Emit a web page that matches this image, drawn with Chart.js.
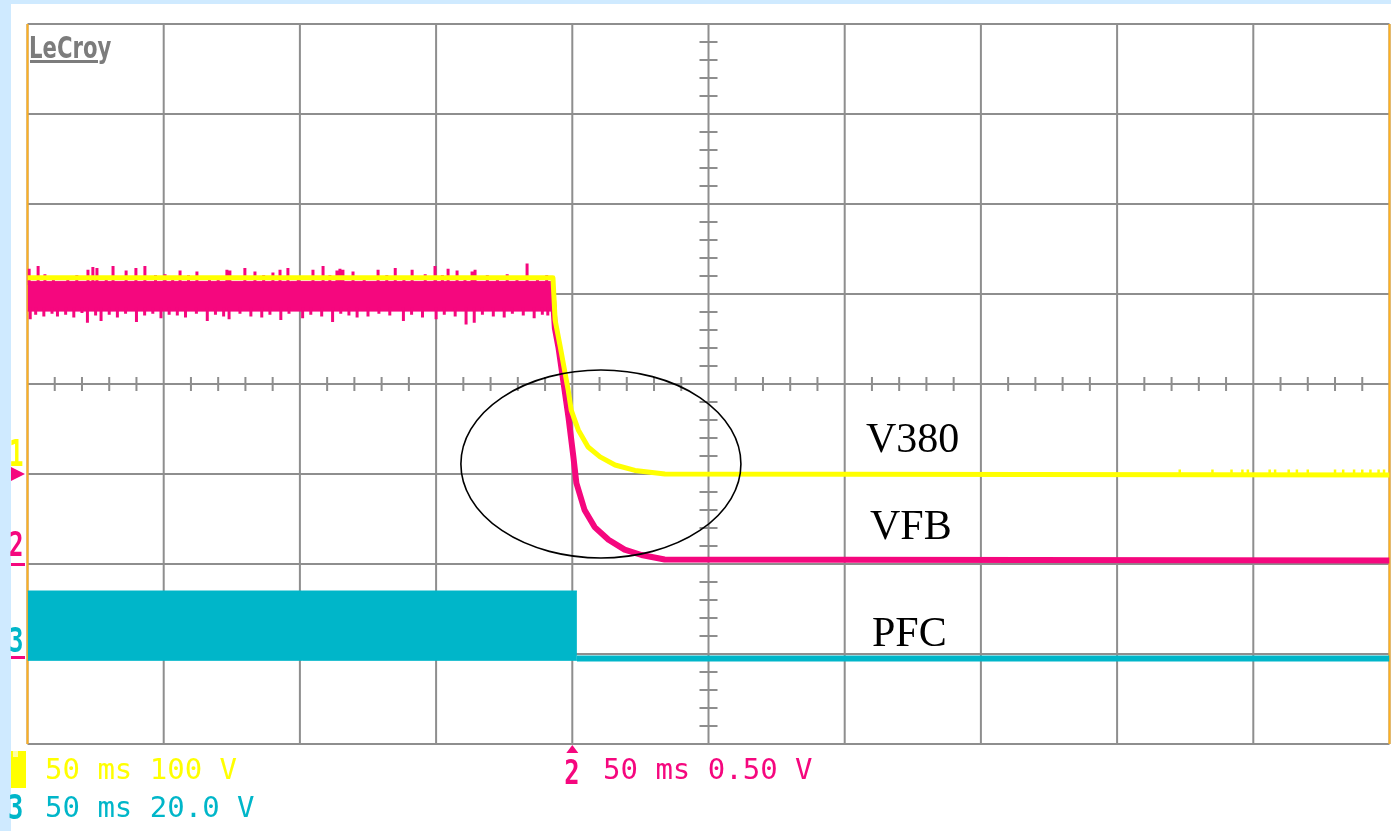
<!DOCTYPE html>
<html><head><meta charset="utf-8">
<script src="https://cdn.jsdelivr.net/npm/chart.js@4.4.1/dist/chart.umd.min.js"></script>
<style>
html,body{margin:0;padding:0;background:#cfeaff;width:1391px;height:831px;overflow:hidden}
#panel{position:absolute;left:11px;top:4px;width:1380px;height:827px;background:#fff}
canvas{position:absolute;left:0;top:0}
</style></head><body><div id="panel"></div><canvas id="c" width="1391" height="831"></canvas>
<script>
// ---- grid / tick positions (time in ms, amplitude in divisions) ----
const gridTimesMs = [0, 50, 100, 150, 200, 250, 300, 350, 400, 450, 500];
const gridDivs = [-4, -3, -2, -1, 0, 1, 2, 3, 4];

// ---- channel 1 : V380 (yellow) ----
const v380TimeMs = [0, 192.9, 193.7, 195.6, 198.5, 199.6, 202.2, 205.8, 210.2, 215.7, 223.0, 234.0, 500];
const v380Div    = [1.18, 1.18, 0.71, 0.41, -0.07, -0.29, -0.51, -0.70, -0.81, -0.90, -0.96, -1.00, -1.01];
const v380SpikeMs  = [423, 435, 442, 446, 448, 456, 458, 463, 466, 470, 480, 483, 487, 490, 493, 496, 498];
const v380SpikeDiv = [-0.95, -0.95, -0.95, -0.95, -0.95, -0.95, -0.95, -0.95, -0.95, -0.95, -0.95, -0.95, -0.95, -0.95, -0.95, -0.95, -0.95];

// ---- channel 2 : VFB (magenta) ----
const vfbBandTimeMs = [0, 192.9];
const vfbBandTop    = [1.14, 1.14];
const vfbBandBottom = [0.81, 0.81];
const vfbUpSpikeMs  = [0.6, 3.9, 6.4, 9.5, 14.8, 18.1, 22.2, 24.0, 25.5, 28.9, 31.4, 36.2, 39.8, 43.1, 47.0, 50.5, 53.3, 56.0, 59.1, 62.2, 66.8, 70.0, 73.2, 74.3, 79.8, 83.5, 86.7, 90.1, 92.7, 95.6, 99.4, 104.8, 108.5, 111.0, 113.6, 114.7, 115.8, 119.5, 123.6, 128.7, 131.9, 135.0, 138.2, 141.2, 146.0, 149.6, 152.3, 154.4, 157.7, 160.6, 163.2, 164.3, 168.8, 172.5, 176.1, 179.7, 183.4, 187.2, 190.6];
const vfbUpSpikeDiv = [1.28, 1.31, 1.22, 1.20, 1.19, 1.21, 1.27, 1.30, 1.29, 1.20, 1.31, 1.26, 1.29, 1.31, 1.21, 1.22, 1.20, 1.26, 1.21, 1.25, 1.20, 1.19, 1.27, 1.26, 1.29, 1.25, 1.21, 1.24, 1.27, 1.29, 1.20, 1.27, 1.31, 1.21, 1.26, 1.28, 1.27, 1.25, 1.20, 1.27, 1.21, 1.29, 1.20, 1.27, 1.22, 1.31, 1.21, 1.28, 1.26, 1.20, 1.25, 1.27, 1.21, 1.20, 1.22, 1.19, 1.34, 1.20, 1.21];
const vfbDownSpikeMs  = [1, 3, 6, 9, 11, 14, 17, 20, 22, 25, 27, 30, 33, 36, 40, 43, 46, 49, 52, 55, 58, 62, 66, 69, 72, 74, 78, 82, 86, 89, 93, 96, 101, 104, 108, 112, 115, 118, 121, 125, 129, 133, 138, 141, 145, 150, 153, 157, 161, 164, 167, 171, 175, 178, 182, 186, 189, 191];
const vfbDownSpikeDiv = [0.72, 0.77, 0.75, 0.78, 0.75, 0.77, 0.74, 0.79, 0.68, 0.76, 0.70, 0.77, 0.74, 0.78, 0.69, 0.76, 0.78, 0.73, 0.77, 0.76, 0.74, 0.78, 0.70, 0.77, 0.75, 0.72, 0.78, 0.75, 0.74, 0.77, 0.71, 0.78, 0.73, 0.77, 0.75, 0.69, 0.78, 0.76, 0.74, 0.75, 0.78, 0.76, 0.70, 0.77, 0.74, 0.72, 0.77, 0.75, 0.66, 0.68, 0.77, 0.75, 0.74, 0.78, 0.76, 0.73, 0.77, 0.76];
const vfbTimeMs = [192.9, 193.6, 194.9, 196.8, 198.6, 200.4, 201.5, 204.5, 208.2, 213.3, 219.2, 225.4, 233.9, 500];
const vfbDiv    = [0.95, 0.62, 0.41, 0.01, -0.37, -0.81, -1.10, -1.40, -1.59, -1.73, -1.84, -1.90, -1.95, -1.96];

// ---- channel 3 : PFC (cyan) ----
const pfcBandTimeMs = [0, 201.7];
const pfcBandTop    = [-2.30, -2.30];
const pfcBandBottom = [-3.07, -3.07];
const pfcTimeMs = [201.7, 500];
const pfcDiv    = [-3.05, -3.05];

// ---- texts ----
const traceLabels   = ['V380', 'VFB', 'PFC'];
const traceLabelMs  = [307.8, 309.3, 310.0];
const traceLabelDiv = [-0.756, -1.722, -2.911];
const scaleTexts = ['50 ms 100 V', '50 ms 20.0 V', '50 ms 0.50 V'];
const highlight = {ms: 210.5, div: -0.889, rxMs: 51.4, ryDiv: 1.044};
const triggerMs = 200;

const YEL = '#ffff00', MAG = '#f5077e', CYA = '#00b6c9';

function pts(xs, ys) { return xs.map((x, i) => ({x, y: ys[i]})); }
function spikes(xs, tips, base) {
  const out = [];
  xs.forEach((x, i) => { out.push({x, y: base}, {x, y: tips[i]}, {x, y: null}); });
  return out;
}

const scopePlugin = {
  id: 'scope',
  beforeDatasetsDraw(chart) {
    const {ctx, chartArea: a, scales: {x, y}} = chart;
    ctx.save();
    ctx.strokeStyle = '#8e8e8e';
    ctx.lineWidth = 2;
    ctx.beginPath();
    gridTimesMs.forEach(t => { const p = x.getPixelForValue(t); ctx.moveTo(p, a.top); ctx.lineTo(p, a.bottom); });
    gridDivs.forEach(v => { const p = y.getPixelForValue(v); ctx.moveTo(a.left, p); ctx.lineTo(a.right, p); });
    ctx.stroke();
    const cy = y.getPixelForValue(0), cx = x.getPixelForValue(250);
    ctx.beginPath();
    for (let t = 0; t <= 500; t += 10) {
      if (t % 50 === 0) continue;
      const p = x.getPixelForValue(t); ctx.moveTo(p, cy - 7); ctx.lineTo(p, cy + 7);
    }
    for (let v = -4; v <= 4.001; v += 0.2) {
      if (Math.abs(v - Math.round(v)) < 0.01) continue;
      const p = y.getPixelForValue(v); ctx.moveTo(cx - 9, p); ctx.lineTo(cx + 9, p);
    }
    ctx.stroke();
    ctx.strokeStyle = '#ffb020';
    ctx.beginPath();
    ctx.moveTo(a.left, a.top); ctx.lineTo(a.left, a.bottom);
    ctx.moveTo(a.right, a.top); ctx.lineTo(a.right, a.bottom);
    ctx.stroke();
    ctx.restore();
  },
  afterDatasetsDraw(chart) {
    const {ctx, scales: {x, y}} = chart;
    ctx.save();
    const ex = x.getPixelForValue(highlight.ms), ey = y.getPixelForValue(highlight.div);
    const rx = x.getPixelForValue(highlight.ms + highlight.rxMs) - ex;
    const ry = ey - y.getPixelForValue(highlight.div + highlight.ryDiv);
    ctx.strokeStyle = '#000'; ctx.lineWidth = 1.6;
    ctx.beginPath(); ctx.ellipse(ex, ey, rx, ry, 0, 0, Math.PI * 2); ctx.stroke();
    ctx.fillStyle = '#000';
    ctx.font = '42px "Liberation Serif"';
    ctx.textBaseline = 'alphabetic';
    traceLabels.forEach((s, i) => ctx.fillText(s, x.getPixelForValue(traceLabelMs[i]), y.getPixelForValue(traceLabelDiv[i])));
    ctx.restore();
  },
  afterDraw(chart) {
    const {ctx, scales: {x, y}} = chart;
    ctx.save();
    // LeCroy logo
    ctx.fillStyle = '#7c7c7c';
    ctx.save();
    ctx.translate(29, 58); ctx.scale(0.76, 1);
    ctx.font = 'bold 31px "DejaVu Sans Condensed"';
    ctx.fillText('LeCroy', 0, 0);
    ctx.restore();
    ctx.fillRect(30, 60, 68, 3);
    // channel ground markers on the left
    ctx.font = 'bold 30px "DejaVu Sans Mono"';
    ctx.save(); ctx.translate(9, 466); ctx.scale(0.8, 1.25);
    ctx.fillStyle = YEL; ctx.fillText('1', 0, 0); ctx.restore();
    const g1 = y.getPixelForValue(-1);
    ctx.fillStyle = MAG;
    ctx.beginPath(); ctx.moveTo(11, g1 - 7); ctx.lineTo(25, g1); ctx.lineTo(11, g1 + 7); ctx.closePath(); ctx.fill();
    ctx.save(); ctx.translate(9, 556); ctx.scale(0.8, 1.1);
    ctx.fillStyle = MAG; ctx.fillText('2', 0, 0); ctx.restore();
    ctx.fillRect(11, y.getPixelForValue(-2) - 1, 14, 3);
    ctx.save(); ctx.translate(9, 652); ctx.scale(0.8, 1.1);
    ctx.fillStyle = CYA; ctx.fillText('3', 0, 0); ctx.restore();
    ctx.fillRect(11, y.getPixelForValue(-3) + 2, 14, 3);
    // bottom scale info
    ctx.fillStyle = YEL; ctx.fillRect(11, 751, 15, 37);
    ctx.fillStyle = '#ffffa0'; ctx.fillRect(13, 751, 5, 6);
    ctx.font = '29px "DejaVu Sans Mono"';
    ctx.fillStyle = YEL; ctx.fillText(scaleTexts[0], 45, 779);
    ctx.fillStyle = CYA; ctx.fillText(scaleTexts[1], 45, 817);
    ctx.fillStyle = MAG; ctx.fillText(scaleTexts[2], 603, 779);
    ctx.font = 'bold 30px "DejaVu Sans Mono"';
    ctx.save(); ctx.translate(8, 819); ctx.scale(0.85, 1.1);
    ctx.fillStyle = CYA; ctx.fillText('3', 0, 0); ctx.restore();
    const tx = x.getPixelForValue(triggerMs);
    ctx.fillStyle = MAG;
    ctx.save(); ctx.translate(tx - 8, 784); ctx.scale(0.85, 1.1);
    ctx.fillText('2', 0, 0); ctx.restore();
    ctx.beginPath(); ctx.moveTo(tx, 745); ctx.lineTo(tx + 6, 753); ctx.lineTo(tx - 6, 753); ctx.closePath(); ctx.fill();
    ctx.restore();
  }
};

const ds = (data, color, width, order, extra) => Object.assign({
  data, borderColor: color, backgroundColor: color, borderWidth: width, order,
  pointRadius: 0, fill: false, tension: 0, spanGaps: false
}, extra || {});

new Chart(document.getElementById('c'), {
  type: 'line',
  data: {datasets: [
    ds(pts(v380TimeMs, v380Div), YEL, 5, 0, {borderJoinStyle: 'round'}),
    ds(spikes(v380SpikeMs, v380SpikeDiv, -1.01), YEL, 2.5, 1),
    ds(pts(vfbTimeMs, vfbDiv), MAG, 6, 2, {borderJoinStyle: 'round'}),
    ds(spikes(vfbUpSpikeMs, vfbUpSpikeDiv, 1.1), MAG, 3, 3),
    ds(spikes(vfbDownSpikeMs, vfbDownSpikeDiv, 0.85), MAG, 3, 4),
    ds(pts(vfbBandTimeMs, vfbBandTop), MAG, 1, 5, {fill: '+1'}),
    ds(pts(vfbBandTimeMs, vfbBandBottom), MAG, 1, 6),
    ds(pts(pfcTimeMs, pfcDiv), CYA, 6, 7),
    ds(pts(pfcBandTimeMs, pfcBandTop), CYA, 1, 8, {fill: '+1'}),
    ds(pts(pfcBandTimeMs, pfcBandBottom), CYA, 1, 9)
  ]},
  options: {
    responsive: false, animation: false, devicePixelRatio: 1, events: [],
    layout: {padding: {left: 27.5, right: 1.5, top: 24, bottom: 87}},
    plugins: {legend: {display: false}, tooltip: {enabled: false}},
    scales: {
      x: {type: 'linear', min: 0, max: 500, display: false},
      y: {type: 'linear', min: -4, max: 4, display: false}
    }
  },
  plugins: [scopePlugin]
});
</script></body></html>
